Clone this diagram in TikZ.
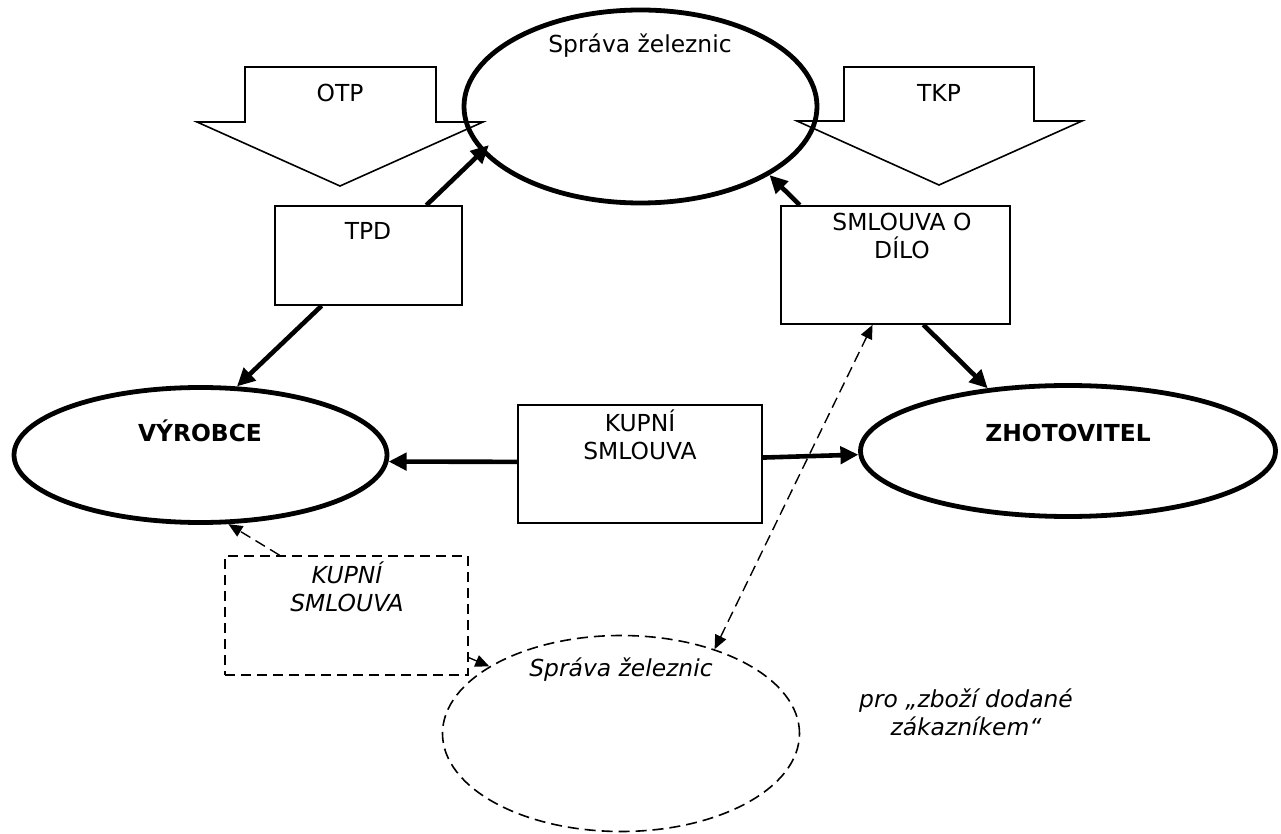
\documentclass[tikz,border=0pt]{standalone}
\usepackage{fontspec}
\setmainfont{DejaVu Sans}
\usetikzlibrary{shapes.geometric,arrows.meta,positioning,calc}

\tikzset{
  party/.style={ellipse, draw, line width=2.4pt, inner sep=0pt},
  deal/.style={rectangle, draw, line width=0.8pt, inner sep=0pt},
  ddeal/.style={deal, line width=0.9pt, dash pattern=on 5pt off 3pt},
  flow/.style={line width=2.3pt, >={Triangle[length=9pt,width=8.5pt]}, ->},
  dflow/.style={line width=0.7pt, dash pattern=on 5.5pt off 3pt, >={Triangle[length=7pt,width=6pt]}, ->},
  lbl/.style={anchor=base, inner sep=0pt, align=center, font=\fontsize{11.7}{14}\selectfont},
  lblb/.style={lbl, font=\fontsize{11.7}{14}\selectfont\bfseries},
  lbli/.style={lbl, font=\fontsize{11.7}{14}\selectfont\itshape},
}

\begin{document}
\begin{tikzpicture}[x=0.5pt, y=-0.5pt]
    \useasboundingbox (0,0) rectangle (1281,834);

    % block arrows for the regulations
    \draw[line width=0.8pt] (245,67) -- (436,67) -- (436,122) -- (483,122) -- (340,186) -- (197,122) -- (245,122) -- cycle;
    \draw[line width=0.8pt] (844,67) -- (1034,67) -- (1034,121) -- (1082,121) -- (939,185) -- (797,121) -- (844,121) -- cycle;
    \node[lbl] (otp) at (340,102) {OTP};
    \node[lbl] (tkp) at (939,102) {TKP};

    % parties
    \node[party, minimum width=176.5pt, minimum height=96.5pt] (sz) at (640.5,106.5) {};
    \node[party, minimum width=186.5pt, minimum height=67.5pt] (vyr) at (200.5,455) {};
    \node[party, minimum width=207.5pt, minimum height=65.5pt] (zho) at (1068,451) {};
    \node[party, line width=0.8pt, dash pattern=on 5.5pt off 3pt, minimum width=178.5pt, minimum height=98pt] (szd) at (621,733.5) {};
    \node[lbl] (sz-t) at (640,53) {Správa železnic};
    \node[lblb] (vyr-t) at (200,442) {VÝROBCE};
    \node[lblb] (zho-t) at (1068,442) {ZHOTOVITEL};
    \node[lbli] (szd-t) at (621,676) {Správa železnic};

    % contracts
    \node[deal, minimum width=93.5pt, minimum height=49.5pt] (tpd) at (368.5,255.5) {};
    \node[deal, minimum width=114.5pt, minimum height=59pt] (sml) at (895.5,265) {};
    \node[deal, minimum width=122pt, minimum height=59pt] (kup) at (640,464) {};
    \node[ddeal, minimum width=121.5pt, minimum height=59.5pt] (dkup) at (346.5,615.5) {};
    \node[lbl] (tpd-t) at (368,240) {TPD};
    \node[lbl] (sml-t) at (902,259) {SMLOUVA O\\DÍLO};
    \node[lbl] (kup-t) at (640,459) {KUPNÍ\\SMLOUVA};
    \node[lbli] (dkup-t) at (347,611) {KUPNÍ\\SMLOUVA};

    \node[lbli] (note) at (966,735) {pro „zboží dodané\\zákazníkem“};

    % connectors
    \draw[flow, shorten >=-5pt] (tpd.41) -- (sz.196);
    \draw[flow] (tpd.227) -- (vyr.62);
    \draw[flow] (sml.148) -- (sz.332);
    \draw[flow] (sml.295) -- (zho.142);
    \draw[flow] (kup.179) -- (vyr.-2);
    \draw[flow] (kup.3) -- (zho.181);
    \draw[dflow] (dkup.138) -- (vyr.292);
    \draw[dflow] (dkup.341) -- (szd.153);
    \draw[dflow, <->] (szd.42) -- (sml.249);
\end{tikzpicture}
\end{document}
